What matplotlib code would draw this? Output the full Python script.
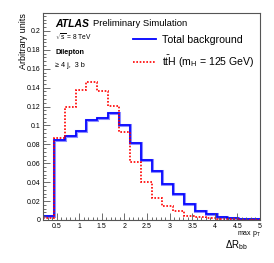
import numpy as np
import matplotlib
matplotlib.use('Agg')
import matplotlib.pyplot as plt
from matplotlib.ticker import MultipleLocator, FuncFormatter

# 数据：20 个区间，0.2 到 5.0
bin_edges = np.linspace(0.2, 5.0, 21)
total_bkg = [0.0046, 0.0850, 0.0892, 0.0942, 0.1062, 0.1078, 0.1128, 0.1000, 0.0814, 0.0632,
             0.0515, 0.0384, 0.0275, 0.0168, 0.0100, 0.0060, 0.0035, 0.0018, 0.0010, 0.0006]
tth_signal = [0.0018, 0.0870, 0.1195, 0.1380, 0.1465, 0.1360, 0.1205, 0.0930, 0.0617, 0.0407,
              0.0234, 0.0149, 0.0099, 0.0043, 0.0027, 0.0018, 0.0012, 0.0008, 0.0005, 0.0003]

W, H = 274, 263
plt.rcParams['font.family'] = ['Liberation Sans', 'DejaVu Sans']
plt.rcParams['mathtext.fontset'] = 'custom'
plt.rcParams['mathtext.rm'] = 'Liberation Sans'
plt.rcParams['mathtext.it'] = 'Liberation Sans:italic'
plt.rcParams['mathtext.bf'] = 'Liberation Sans:bold'

fig = plt.figure(figsize=(W / 100, H / 100), dpi=100)
ax = fig.add_axes([43 / W, 1 - 220 / H, (260 - 43) / W, (220 - 13) / H])

ax.stairs(total_bkg, bin_edges, baseline=None, color='#8c8cff', linewidth=2.2)
ax.stairs(total_bkg, bin_edges, baseline=None, color='#0000ff', linewidth=1.2, label='Total background')
ax.stairs(tth_signal, bin_edges, baseline=None, color='#ff0000', linewidth=1.2,
          linestyle=(0, (1, 1)), label=r'$\mathrm{t\bar{t}H}$ ($\mathrm{m_H}$ = 125 GeV)')

ax.set_xlim(0.2, 5.0)
ax.set_ylim(0, 0.219)
ax.xaxis.set_major_locator(MultipleLocator(0.5))
ax.xaxis.set_minor_locator(MultipleLocator(0.1))
ax.yaxis.set_major_locator(MultipleLocator(0.02))
ax.yaxis.set_minor_locator(MultipleLocator(0.004))
ax.xaxis.set_major_formatter(FuncFormatter(lambda v, p: f'{v:g}'))
ax.yaxis.set_major_formatter(FuncFormatter(lambda v, p: f'{v:g}'))
ax.tick_params(which='both', direction='in', top=False, right=False, labelsize=5,
               color='#555555', width=0.6, pad=2)
ax.tick_params(which='major', length=5)
ax.tick_params(which='minor', length=2.5)
for s in ax.spines.values():
    s.set_color('#555555')
    s.set_linewidth(0.8)

leg = ax.legend(loc='upper left', bbox_to_anchor=(133 / W, 1 - 35 / H), bbox_transform=fig.transFigure,
                frameon=False, fontsize=7.6, handlelength=2.2, handletextpad=0.5, labelspacing=0.8,
                borderaxespad=0, borderpad=0)
leg.get_lines()[0].set_linewidth(1.3)

fig.text(23 / W, 1 - 13 / H, 'Arbitrary units', rotation=90, ha='center', va='top', fontsize=6.5)
fig.text(225 / W, 1 - 248 / H, r'$\Delta\mathrm{R}_{\mathrm{bb}}$', ha='left', va='baseline', fontsize=7)
fig.text(237 / W, 1 - 235 / H, r'max $\mathrm{p_T}$', ha='left', va='baseline', fontsize=5)

fig.text(55 / W, 1 - 24 / H, 'ATLAS', fontsize=7.5, fontweight='bold', fontstyle='italic', va='center')
fig.text(93 / W, 1 - 24 / H, 'Preliminary Simulation', fontsize=6.8, va='center')
fig.text(55 / W, 1 - 37 / H, r'$\sqrt{\mathrm{s}}$ = 8 TeV', fontsize=4.8, va='center')
fig.text(55 / W, 1 - 52 / H, 'Dilepton', fontsize=5.2, fontweight='bold', va='center')
fig.text(55 / W, 1 - 66 / H, '≥ 4 j,  3 b', fontsize=5.2, va='center')

fig.savefig('out.png', dpi=100)
